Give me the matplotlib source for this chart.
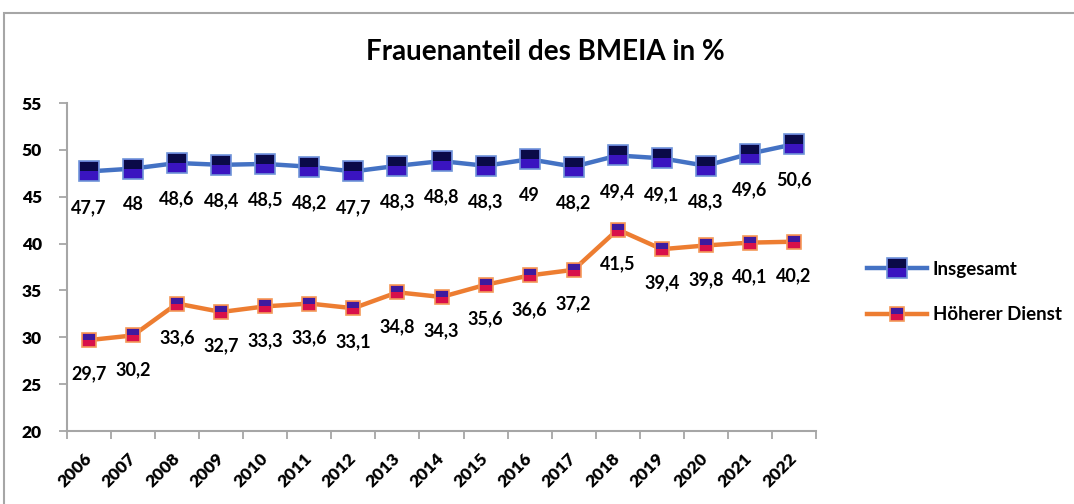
import numpy as np
import matplotlib.pyplot as plt
from matplotlib.patches import Rectangle

years = [str(y) for y in range(2006, 2023)]
insgesamt = [47.7, 48, 48.6, 48.4, 48.5, 48.2, 47.7, 48.3, 48.8, 48.3, 49, 48.2, 49.4, 49.1, 48.3, 49.6, 50.6]
hoeherer = [29.7, 30.2, 33.6, 32.7, 33.3, 33.6, 33.1, 34.8, 34.3, 35.6, 36.6, 37.2, 41.5, 39.4, 39.8, 40.1, 40.2]

plt.rcParams['font.family'] = ['Lato', 'DejaVu Sans']

fig = plt.figure(figsize=(10.74, 5.04), dpi=100)
ax = fig.add_axes([67 / 1074, 1 - 431 / 504, (816 - 67) / 1074, (431 - 103) / 504])

# grey frame round the chart (only top and left are in view)
fig.patches.append(Rectangle((4 / 1074, -0.2), 1.5, 1.2 - 13 / 504,
                             transform=fig.transFigure, fill=False,
                             edgecolor='#a6a6a6', linewidth=1.5))

x = np.arange(len(years))


def fmt(v):
    return ('%g' % v).replace('.', ',')


# lines with full markers (lower colour of the gradient)
l1, = ax.plot(x, insgesamt, '-', color='#4472C4', linewidth=3.2, marker='s',
              markersize=14, markerfacecolor='#3a14c0', markeredgecolor='#6f95d8',
              markeredgewidth=1.2, zorder=3)
l2, = ax.plot(x, hoeherer, '-', color='#ED7D31', linewidth=3.2, marker='s',
              markersize=10.5, markerfacecolor='#d8104a', markeredgecolor='#f39a5a',
              markeredgewidth=1.2, zorder=3)
# upper half of the markers (darker part of the gradient)
t1, = ax.plot(x, insgesamt, linestyle='none', marker='s', markersize=12.3,
              fillstyle='top', markerfacecolor='#0a0a48', markerfacecoloralt='none',
              markeredgewidth=0, zorder=4)
t2, = ax.plot(x, hoeherer, linestyle='none', marker='s', markersize=8.8,
              fillstyle='top', markerfacecolor='#3e1a9e', markerfacecoloralt='none',
              markeredgewidth=0, zorder=4)

for xi, v in zip(x, insgesamt):
    ax.annotate(fmt(v), (xi, v), xytext=(0, -36), textcoords='offset pixels',
                ha='center', va='center', fontsize=13, fontweight='bold')
for xi, v in zip(x, hoeherer):
    ax.annotate(fmt(v), (xi, v), xytext=(0, -34), textcoords='offset pixels',
                ha='center', va='center', fontsize=13, fontweight='bold')

ax.set_xlim(-0.5, len(years) - 0.5)
ax.set_ylim(20, 55)
ax.set_yticks(np.arange(20, 56, 5))
ax.set_yticklabels([str(v) for v in range(20, 56, 5)], fontsize=12.5, fontweight='heavy')

ax.set_xticks(np.arange(-0.5, len(years), 1.0))
ax.set_xticklabels([])
ax.set_xticks(x, minor=True)
ax.set_xticklabels(years, minor=True, rotation=45, ha='right', va='center',
                   rotation_mode='anchor', fontsize=12.5, fontweight='heavy')
ax.tick_params(axis='x', which='minor', length=0, pad=18)
ax.tick_params(axis='x', which='major', length=6, color='#a6a6a6', width=1.3)
ax.tick_params(axis='y', length=6, color='#a6a6a6', width=1.3, pad=12)

for s in ['top', 'right']:
    ax.spines[s].set_visible(False)
for s in ['left', 'bottom']:
    ax.spines[s].set_color('#a6a6a6')
    ax.spines[s].set_linewidth(1.5)

fig.text(545 / 1074, 1 - 52 / 504, 'Frauenanteil des BMEIA in %', ha='center',
         va='center', fontsize=20, fontweight='bold')

fig.legend([(l1, t1), (l2, t2)], ['Insgesamt', 'Höherer Dienst'],
           loc='center left', bbox_to_anchor=(858 / 1074, 1 - 292 / 504),
           frameon=False, handlelength=3.2, labelspacing=1.5,
           borderpad=0, handletextpad=0.3, prop={'weight': 'bold', 'size': 13.5})

fig.savefig('out.png', dpi=100)
